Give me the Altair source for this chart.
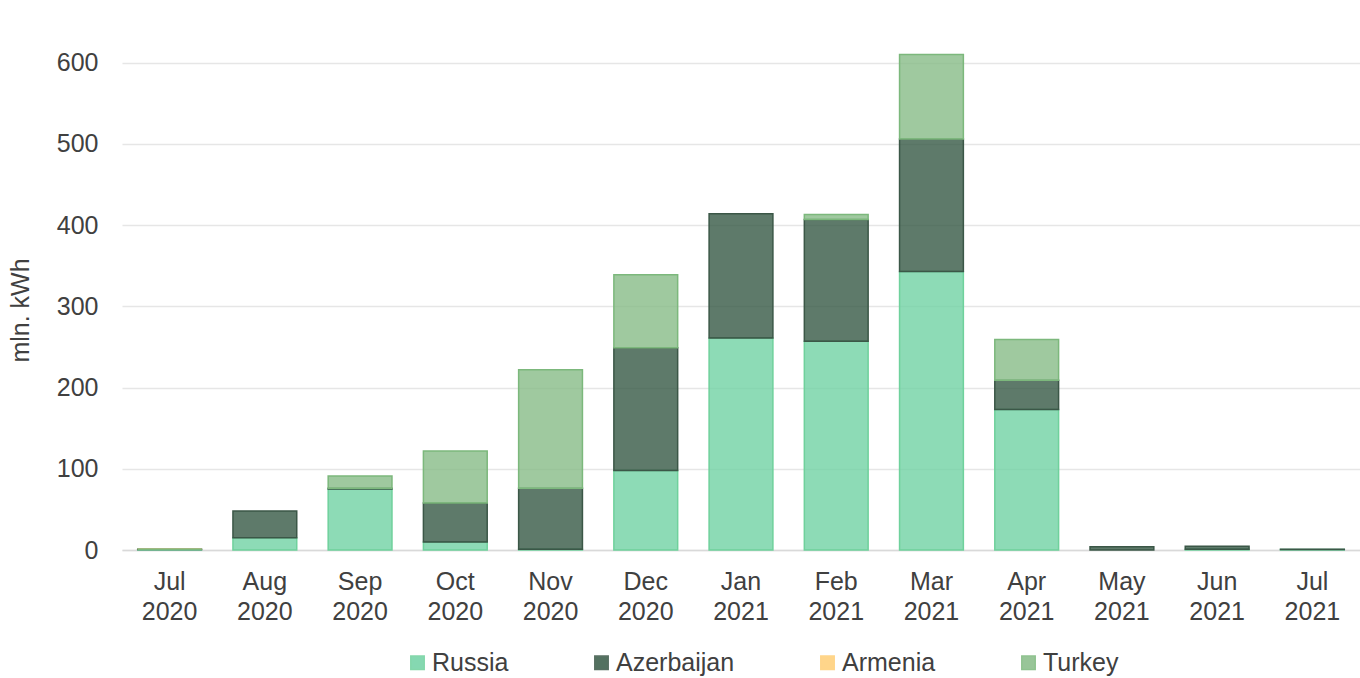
import altair as alt
import pandas as pd

months = ["Jul 2020", "Aug 2020", "Sep 2020", "Oct 2020", "Nov 2020", "Dec 2020",
          "Jan 2021", "Feb 2021", "Mar 2021", "Apr 2021", "May 2021", "Jun 2021", "Jul 2021"]
russia = [0.5, 15, 75, 10, 1, 98, 261, 257, 343, 173, 0, 1, 0.5]
azerbaijan = [0.5, 33, 1, 48, 75, 151, 153, 150, 163, 36, 4, 3.5, 0.3]
armenia = [0, 0, 0, 0, 0, 0, 0, 0, 0, 0, 0, 0, 0]
turkey = [0, 0, 15, 64, 146, 90, 0, 6, 104, 50, 0, 0, 0]

countries = ["Russia", "Azerbaijan", "Armenia", "Turkey"]
fills = ["#70d2a4", "#365945", "#ffce76", "#87bc87"]
strokes = ["#6fd19c", "#3b5747", "#ffce76", "#7cb87c"]
series = {"Russia": russia, "Azerbaijan": azerbaijan, "Armenia": armenia, "Turkey": turkey}

rows = []
for ci, c in enumerate(countries):
    for m, v in zip(months, series[c]):
        rows.append({"month": m, "country": c, "value": v, "order": ci})
df = pd.DataFrame(rows)

FONT = "Liberation Sans"
TXT = "#404040"

chart = alt.Chart(df).transform_filter(
    "datum.value > 0 || datum.month == 'Jul 2020'"
).mark_bar(fillOpacity=0.8, strokeWidth=1.5).encode(
    x=alt.X("month:N", sort=months, title=None,
            scale=alt.Scale(paddingInner=0.33, paddingOuter=0.165),
            axis=alt.Axis(labelExpr="split(datum.label, ' ')", labelAngle=0,
                          labelFontSize=25, labelFont=FONT, labelColor=TXT,
                          labelLineHeight=30, labelPadding=19, ticks=False,
                          domainColor="#d9d9d9", domainWidth=1.5, grid=False)),
    y=alt.Y("value:Q", stack="zero", title="mln. kWh",
            scale=alt.Scale(domain=[0, 650], nice=False),
            axis=alt.Axis(values=[0, 100, 200, 300, 400, 500, 600], ticks=False,
                          domain=False, labelFontSize=25, labelFont=FONT, labelColor=TXT,
                          labelPadding=24, titleFontSize=25, titleFont=FONT,
                          titleColor=TXT, titleFontWeight="normal", titlePadding=23,
                          titleY=288,
                          gridColor="#e6e6e6", gridWidth=1.5)),
    fill=alt.Fill("country:N", sort=countries,
                  scale=alt.Scale(domain=countries, range=fills),
                  legend=alt.Legend(title=None, orient="none", legendX=283, legendY=628,
                                    direction="horizontal", columns=4, columnPadding=80,
                                    symbolType="square", symbolSize=180,
                                    symbolStrokeWidth=1.5, symbolOpacity=0.85,
                                    labelFontSize=25, labelFont=FONT, labelColor=TXT,
                                    labelOffset=2)),
    stroke=alt.Stroke("country:N", sort=countries,
                      scale=alt.Scale(domain=countries, range=strokes)),
    order=alt.Order("order:Q", sort="ascending"),
).properties(
    width=1238, height=528,
    autosize=alt.AutoSizeParams(type="none"),
    padding={"left": 122, "top": 22, "right": 0, "bottom": 128},
).configure_view(stroke=None)

chart.save("out.html", embed_options={"renderer": "svg", "actions": False})
